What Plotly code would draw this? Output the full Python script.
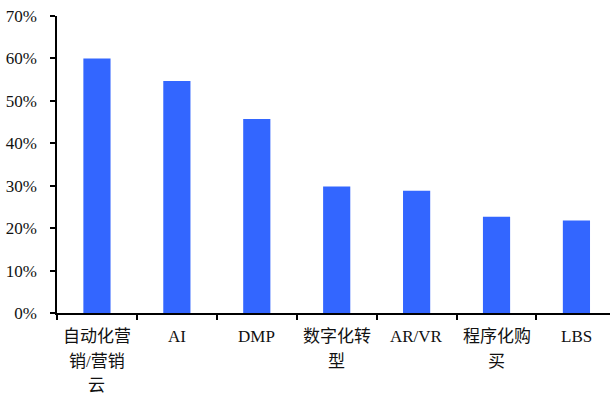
import plotly.graph_objects as go

categories = ["自动化营<br>销/营销<br>云", "AI", "DMP", "数字化转<br>型", "AR/VR", "程序化购<br>买", "LBS"]
values = [60.0, 54.7, 45.7, 29.8, 28.8, 22.7, 21.8]
y_ticks = [0, 10, 20, 30, 40, 50, 60, 70]
y_tick_labels = [f"{v}%" for v in y_ticks]

FONT = "Liberation Serif, 'Times New Roman', 'Noto Sans CJK SC', serif"

fig = go.Figure()
fig.add_trace(go.Bar(
    x=list(range(len(categories))),
    y=values,
    marker=dict(color="#3366FF", line=dict(width=0)),
    width=0.34,
))

annotations = []
line_shifts = [-23, -48, -72]
for i, lab in enumerate(categories):
    for j, part in enumerate(lab.split("<br>")):
        annotations.append(dict(
            x=i, xref="x", y=0, yref="paper",
            text=part, showarrow=False,
            xanchor="center", yanchor="middle",
            yshift=line_shifts[j],
            font=dict(family=FONT, size=17, color="#111111"),
        ))

fig.update_layout(
    width=610, height=394,
    margin=dict(l=57, r=0, t=16, b=81, pad=0),
    paper_bgcolor="white", plot_bgcolor="white",
    showlegend=False,
    annotations=annotations,
    font=dict(family=FONT, size=17, color="#111111"),
    xaxis=dict(
        range=[-0.5, 6.42],
        tickmode="array",
        tickvals=[k - 0.5 for k in range(len(categories) + 1)],
        ticktext=[""] * (len(categories) + 1),
        ticks="outside", ticklen=5, tickwidth=1.5, tickcolor="black",
        showline=True, linecolor="black", linewidth=1.5,
        showgrid=False, zeroline=False,
    ),
    yaxis=dict(
        range=[0, 70],
        tickmode="array", tickvals=y_ticks, ticktext=y_tick_labels,
        ticks="outside", ticklen=5, tickwidth=1.5, tickcolor="black",
        ticklabelstandoff=10,
        showline=True, linecolor="black", linewidth=1.5,
        showgrid=False, zeroline=False,
        tickfont=dict(family=FONT, size=17, color="#111111"),
    ),
)

fig.write_html("out.html")
